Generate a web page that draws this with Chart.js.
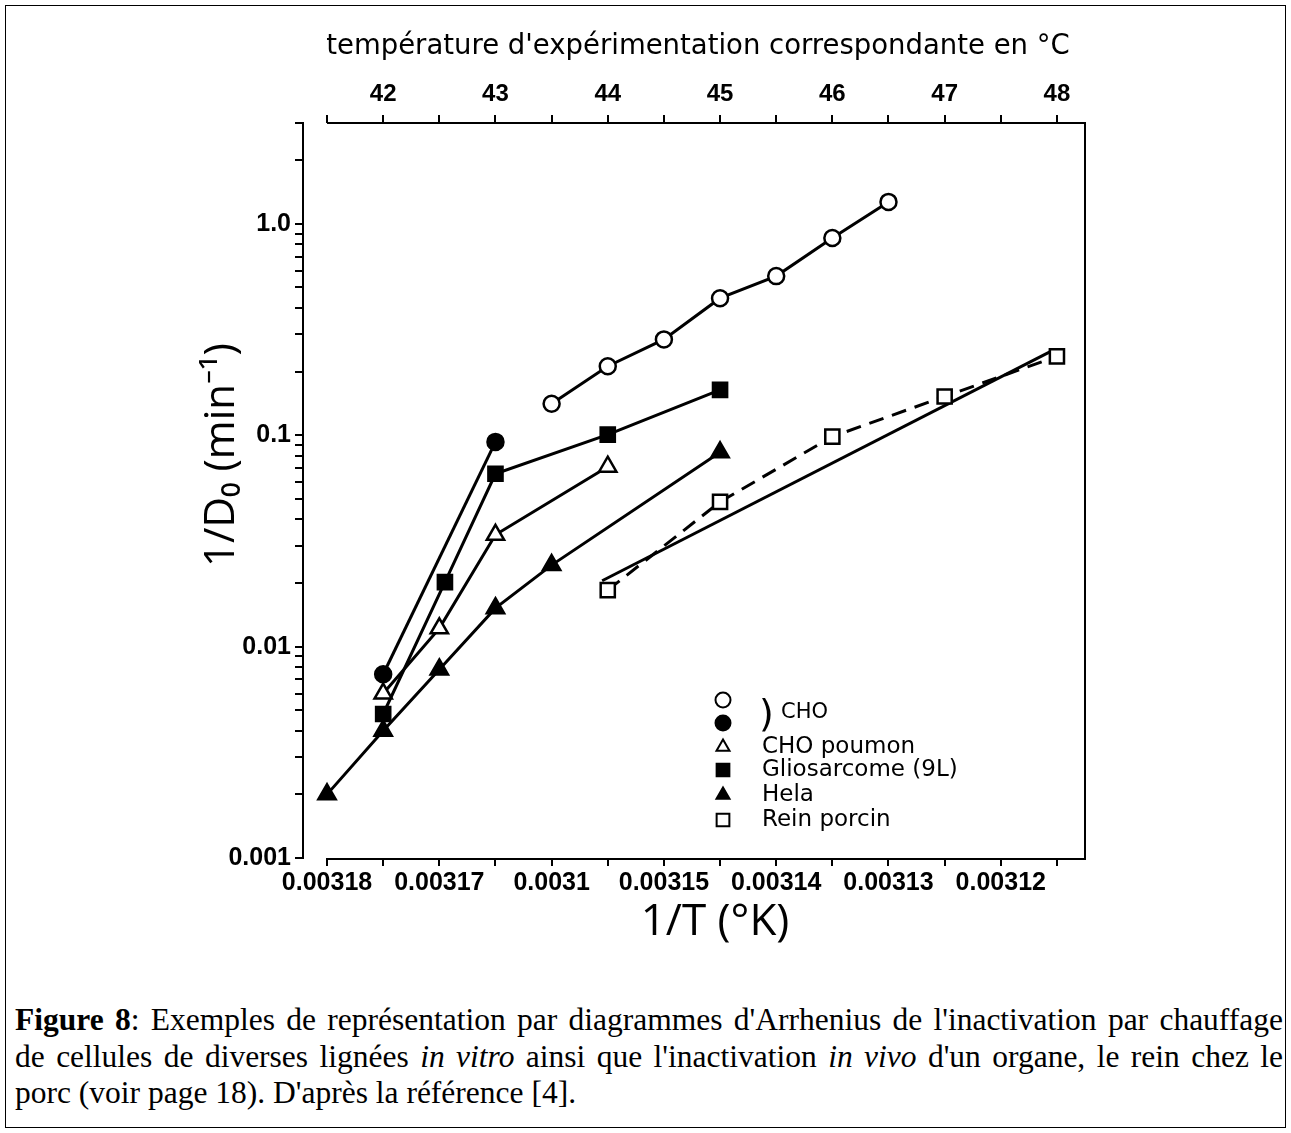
<!DOCTYPE html>
<html>
<head>
<meta charset="utf-8">
<script src="https://cdn.jsdelivr.net/npm/chart.js@4.4.1/dist/chart.umd.min.js"></script>
<style>
  body { margin: 0; background: #fff; }
  #frame { position: absolute; left: 5px; top: 5px; width: 1279px; height: 1121px; border: 1.5px solid #000; }
  #wrap { position: absolute; left: 0; top: 0; width: 1291px; height: 960px; }
  #caption { position: absolute; left: 15px; width: 1268px; top: 1002px; font-family: 'Liberation Serif', 'Times New Roman', serif;
    font-size: 31.5px; line-height: 36.5px; color: #000; }
  #caption .j { text-align: justify; text-align-last: justify; white-space: nowrap; word-spacing: -4px; }
</style>
</head>
<body>
<div id="frame"></div>
<div id="wrap"><canvas id="myChart" width="1291" height="960"></canvas></div>
<div id="caption">
  <div class="j"><b>Figure 8</b>: Exemples de représentation par diagrammes d'Arrhenius de l'inactivation par chauffage</div>
  <div class="j">de cellules de diverses lignées <i>in vitro</i> ainsi que l'inactivation <i>in vivo</i> d'un organe, le rein chez le</div>
  <div>porc (voir page 18). D'après la référence [4].</div>
</div>
<script>
'use strict';
// temperatures (°C) and 1/D0 values
let choOpenT = [43.5, 44, 44.5, 45, 45.5, 46, 46.5];
let choOpenV = [0.141, 0.212, 0.284, 0.445, 0.566, 0.857, 1.27];
let choFilledT = [42, 43];
let choFilledV = [0.0074, 0.093];
let poumonT = [42, 42.5, 43, 44];
let poumonV = [0.006, 0.0122, 0.0338, 0.071];
let glioT = [42, 42.55, 43, 44, 45];
let glioV = [0.0048, 0.0202, 0.0657, 0.1007, 0.164];
let helaT = [41.5, 42, 42.5, 43, 43.5, 45];
let helaV = [0.002, 0.004, 0.0078, 0.0152, 0.0243, 0.083];
let reinT = [44, 45, 46, 47, 48];
let reinV = [0.0185, 0.0484, 0.0985, 0.1525, 0.236];
let reinFitT = [43.95, 47.95];
let reinFitV = [0.0205, 0.25];

let xTicks = [41.5, 42, 42.5, 43, 43.5, 44, 44.5, 45, 45.5, 46, 46.5, 47, 47.5, 48];
let topLabelVals = [42, 43, 44, 45, 46, 47, 48];
let bottomLabelVals = [41.5, 42.5, 43.5, 44.5, 45.5, 46.5, 47.5];
let bottomLabels = ['0.00318', '0.00317', '0.0031', '0.00315', '0.00314', '0.00313', '0.00312'];
let yDecades = [0.001, 0.01, 0.1, 1];
let yLabels = ['0.001', '0.01', '0.1', '1.0'];

let legendItems = [
    { text: '', style: 'circle', fill: '#fff' },
    { text: '', style: 'circle', fill: '#000' },
    { text: 'CHO poumon', style: 'triangle', fill: '#fff' },
    { text: 'Gliosarcome (9L)', style: 'rect', fill: '#000' },
    { text: 'Hela', style: 'triangle', fill: '#000' },
    { text: 'Rein porcin', style: 'rect', fill: '#fff' }
];

function pts(t, v) {
    let out = [];
    for (let i = 0; i < t.length; i++) {
        out.push({ x: t[i], y: v[i] });
    }
    return out;
}

function series(t, v, style, fill, radius, dash) {
    return {
        data: pts(t, v),
        borderColor: '#000',
        borderWidth: 3,
        borderDash: dash || [],
        pointStyle: style,
        pointRadius: radius,
        pointBackgroundColor: fill,
        pointBorderColor: '#000',
        pointBorderWidth: 2.5,
        showLine: true,
        tension: 0
    };
}

let xMin = 41.286;
let xMax = 48.25;

function setXTicks(scale) {
    scale.ticks = xTicks.map(v => ({ value: v }));
}

let framePlugin = {
    id: 'frame',
    afterDraw(chart) {
        let ctx = chart.ctx;
        let a = chart.chartArea;
        let x = chart.scales.x;
        let x0 = x.getPixelForValue(41.5);
        ctx.save();
        ctx.strokeStyle = '#000';
        ctx.lineWidth = 2;
        ctx.beginPath();
        ctx.moveTo(x0, a.top); ctx.lineTo(a.right, a.top);
        ctx.lineTo(a.right, a.bottom + 1); ctx.lineTo(x0, a.bottom + 1);
        ctx.stroke();

        // axis titles
        ctx.fillStyle = '#000';
        ctx.textAlign = 'center';
        ctx.textBaseline = 'middle';
        ctx.font = '27.5px "DejaVu Sans"';
        ctx.fillText("température d'expérimentation correspondante en °C", 698, 47);
        ctx.font = '44px "Open Sans"';
        ctx.fillText('1/T (°K)', 715, 922);
        ctx.font = '42px "Open Sans"';
        ctx.save();
        ctx.translate(222, 455);
        ctx.rotate(-Math.PI / 2);
        ctx.fillText('1/D₀ (min⁻¹)', 0, 0);
        ctx.restore();

        // legend
        let lx = 723, ly = [700, 723, 747, 770, 795, 820];
        ctx.textAlign = 'left';
        ctx.font = '23px "DejaVu Sans"';
        for (let i = 0; i < legendItems.length; i++) {
            let it = legendItems[i];
            ctx.fillStyle = it.fill;
            ctx.strokeStyle = '#000';
            ctx.lineWidth = 2;
            Chart.helpers.drawPoint(ctx, { pointStyle: it.style, radius: it.style === 'rect' ? 9 : 7.5, rotation: 0, borderWidth: 2 }, lx, ly[i]);
            if (it.text) {
                ctx.fillStyle = '#000';
                ctx.fillText(it.text, 762, ly[i]);
            }
        }
        ctx.fillStyle = '#000';
        ctx.font = '38px "DejaVu Sans"';
        ctx.fillText(')', 759, 716);
        ctx.font = '21px "DejaVu Sans"';
        ctx.fillText('CHO', 781, 713);
        ctx.restore();
    }
};

let ctx = document.getElementById('myChart').getContext('2d');
let myChart = new Chart(ctx, {
    type: 'scatter',
    data: {
        datasets: [
            series(choOpenT, choOpenV, 'circle', '#fff', 8),
            series(choFilledT, choFilledV, 'circle', '#000', 8),
            series(poumonT, poumonV, 'triangle', '#fff', 10),
            series(glioT, glioV, 'rect', '#000', 10),
            series(helaT, helaV, 'triangle', '#000', 10),
            series(reinT, reinV, 'rect', '#fff', 10, [15, 9]),
            Object.assign(series(reinFitT, reinFitV, 'circle', '#000', 0), { pointRadius: 0 })
        ]
    },
    options: {
        responsive: false,
        animation: false,
        layout: { padding: { left: 0, right: 206, top: 0, bottom: 0 } },
        plugins: { legend: { display: false }, tooltip: { enabled: false } },
        scales: {
            x: {
                type: 'linear', position: 'bottom', min: xMin, max: xMax,
                afterBuildTicks: setXTicks,
                afterFit(scale) { scale.height = 960 - 858; },
                border: { display: false },
                grid: { display: true, drawOnChartArea: false, drawTicks: true, tickLength: 8, color: '#000', lineWidth: 2 },
                ticks: {
                    color: '#000', padding: 2, maxRotation: 0, autoSkip: false,
                    font: { family: 'Liberation Sans', size: 25, weight: 'bold' },
                    callback(v) {
                        let i = bottomLabelVals.indexOf(v);
                        return i >= 0 ? bottomLabels[i] : '';
                    }
                }
            },
            x2: {
                type: 'linear', position: 'top', min: xMin, max: xMax,
                afterBuildTicks: setXTicks,
                afterFit(scale) { scale.height = 123; },
                border: { display: false },
                grid: { display: true, drawOnChartArea: false, drawTicks: true, tickLength: 8, color: '#000', lineWidth: 2 },
                ticks: {
                    color: '#000', padding: 6, maxRotation: 0, autoSkip: false,
                    font: { family: 'Liberation Sans', size: 24, weight: 'bold' },
                    callback(v) {
                        return topLabelVals.indexOf(v) >= 0 ? String(v) : '';
                    }
                }
            },
            y: {
                type: 'logarithmic', min: 0.001, max: 3,
                afterBuildTicks(scale) {
                    let t = [];
                    yDecades.forEach(d => {
                        for (let m = 1; m <= 9; m++) {
                            let v = +(d * m).toPrecision(3);
                            if (v <= 3) t.push({ value: v });
                        }
                    });
                    scale.ticks = t;
                },
                afterFit(scale) { scale.width = 303; },
                border: { display: true, color: '#000', width: 2 },
                grid: { display: true, drawOnChartArea: false, drawTicks: true, tickLength: 8, color: '#000', lineWidth: 2 },
                ticks: {
                    color: '#000', padding: 4, autoSkip: false,
                    font: { family: 'Liberation Sans', size: 25, weight: 'bold' },
                    callback(v) {
                        let i = yDecades.indexOf(v);
                        return i >= 0 ? yLabels[i] : '';
                    }
                }
            }
        }
    },
    plugins: [framePlugin]
});
</script>
</body>
</html>
